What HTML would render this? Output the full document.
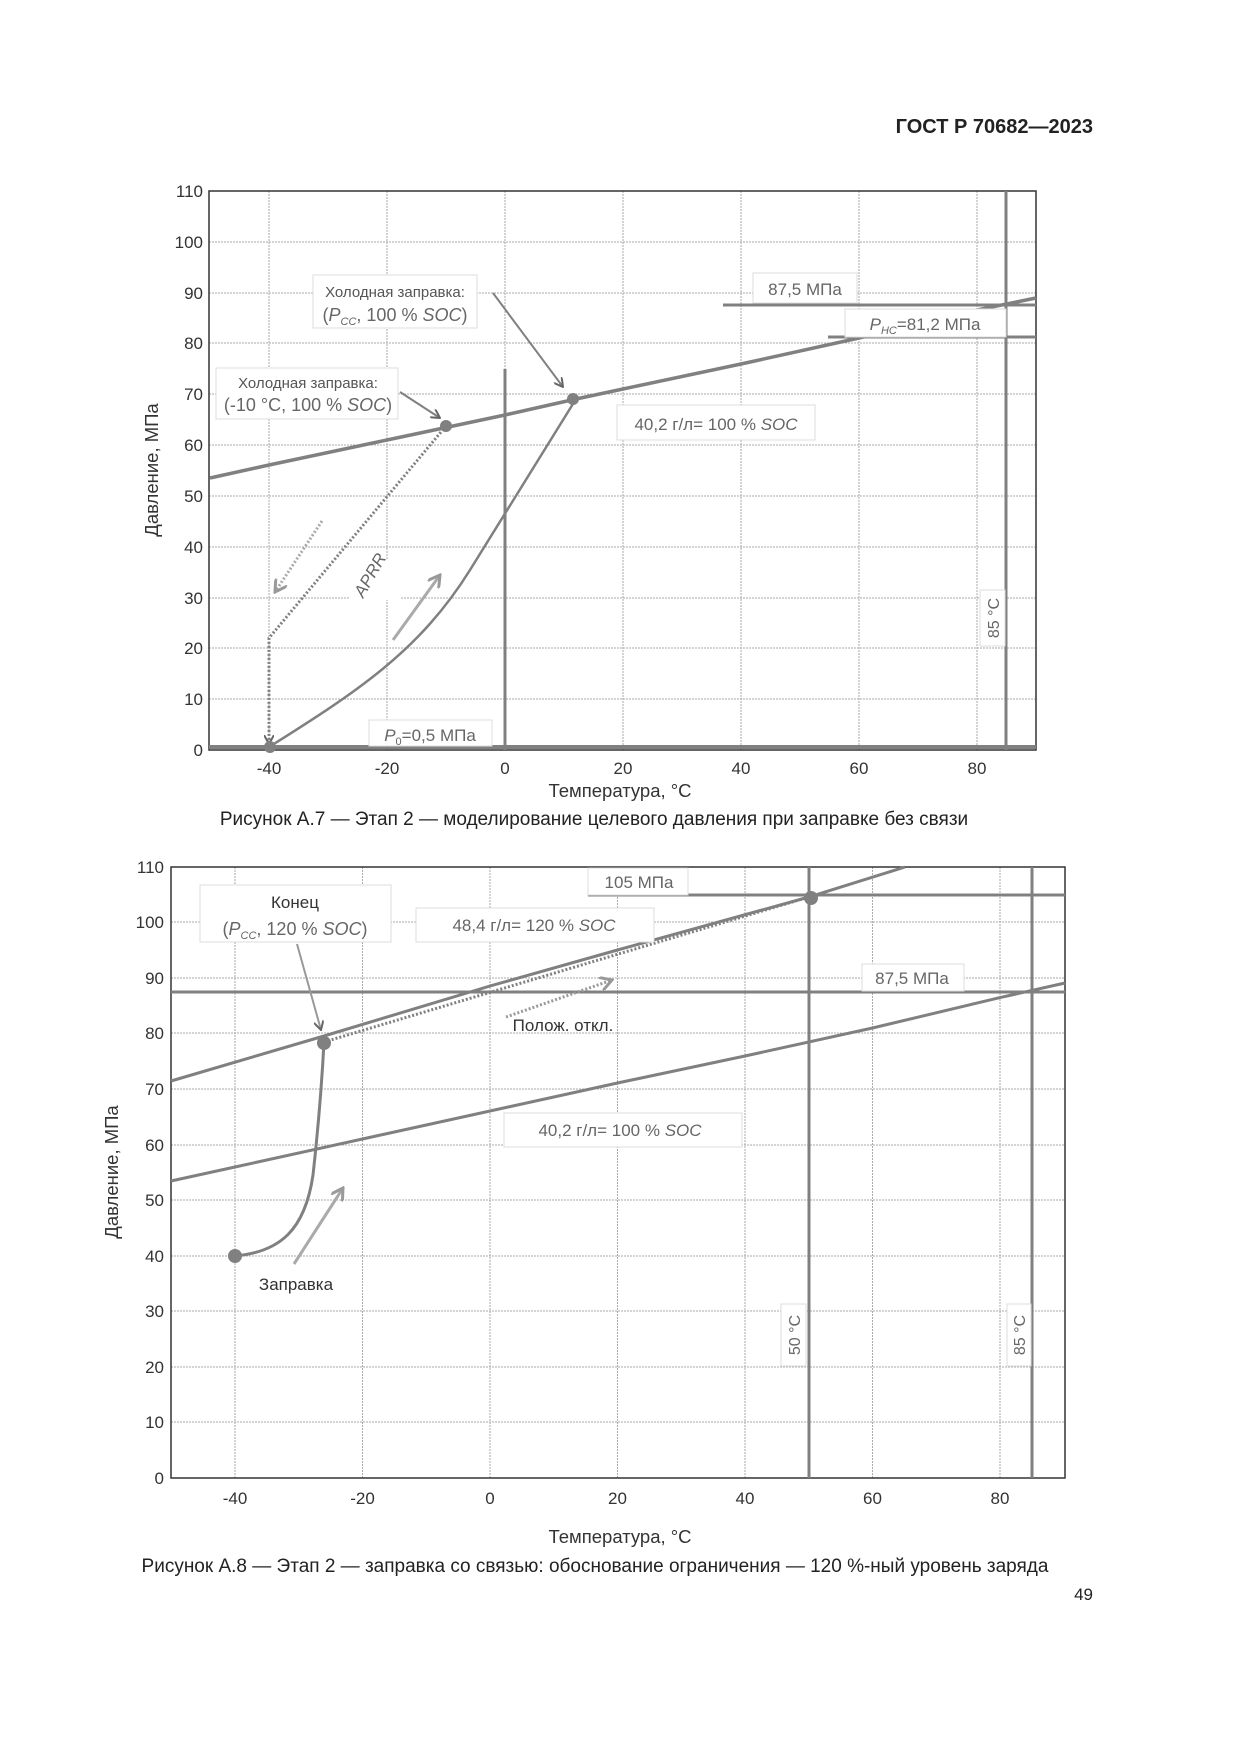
<!DOCTYPE html>
<html><head><meta charset="utf-8"><style>
html,body{margin:0;padding:0;background:#fff}
svg{display:block}
text{font-family:"Liberation Sans",sans-serif}
</style></head><body>
<svg width="1241" height="1754" viewBox="0 0 1241 1754" xmlns="http://www.w3.org/2000/svg">
<defs>
<marker id="ah" markerWidth="10" markerHeight="10" refX="9" refY="5" orient="auto" markerUnits="userSpaceOnUse"><path d="M0,0 L9,5 L0,10" fill="none" stroke="#666" stroke-width="2"/></marker>
<marker id="ahl" markerWidth="14" markerHeight="14" refX="12" refY="7" orient="auto" markerUnits="userSpaceOnUse"><path d="M0,0 L12,7 L0,14" fill="none" stroke="#999" stroke-width="3"/></marker>
</defs>
<text x="1093" y="133" text-anchor="end" font-size="20" font-weight="bold" fill="#222">ГОСТ Р 70682—2023</text>

<!-- CHART 1 -->
<g stroke="#aaa" stroke-width="1" stroke-dasharray="2,1">
<line x1="269" y1="191" x2="269" y2="750"/><line x1="387" y1="191" x2="387" y2="750"/><line x1="505" y1="191" x2="505" y2="750"/><line x1="623" y1="191" x2="623" y2="750"/><line x1="741" y1="191" x2="741" y2="750"/><line x1="859" y1="191" x2="859" y2="750"/><line x1="977" y1="191" x2="977" y2="750"/>
<line x1="209" y1="699" x2="1036" y2="699"/><line x1="209" y1="648" x2="1036" y2="648"/><line x1="209" y1="598" x2="1036" y2="598"/><line x1="209" y1="547" x2="1036" y2="547"/><line x1="209" y1="496" x2="1036" y2="496"/><line x1="209" y1="445" x2="1036" y2="445"/><line x1="209" y1="394" x2="1036" y2="394"/><line x1="209" y1="343" x2="1036" y2="343"/><line x1="209" y1="293" x2="1036" y2="293"/><line x1="209" y1="242" x2="1036" y2="242"/>
</g>
<rect x="209" y="191" width="827" height="559" fill="none" stroke="#333" stroke-width="1.5"/>
<g font-size="17" fill="#333" text-anchor="end">
<text x="203" y="756">0</text><text x="203" y="705">10</text><text x="203" y="654">20</text><text x="203" y="604">30</text><text x="203" y="553">40</text><text x="203" y="502">50</text><text x="203" y="451">60</text><text x="203" y="400">70</text><text x="203" y="349">80</text><text x="203" y="299">90</text><text x="203" y="248">100</text><text x="203" y="197">110</text>
</g>
<g font-size="17" fill="#333" text-anchor="middle">
<text x="269" y="774">-40</text><text x="387" y="774">-20</text><text x="505" y="774">0</text><text x="623" y="774">20</text><text x="741" y="774">40</text><text x="859" y="774">60</text><text x="977" y="774">80</text>
<text x="620" y="797" font-size="18.5">Температура, °C</text>
</g>
<text transform="translate(158,470) rotate(-90)" font-size="18.5" fill="#333" text-anchor="middle">Давление, МПа</text>
<text x="594" y="825" font-size="19" fill="#222" text-anchor="middle">Рисунок А.7 — Этап 2 — моделирование целевого давления при заправке без связи</text>

<g fill="none" stroke="#808080">
<line x1="505" y1="369" x2="505" y2="750" stroke-width="3"/>
<line x1="1006" y1="191" x2="1006" y2="750" stroke-width="3"/>
<line x1="209" y1="747" x2="1036" y2="747" stroke-width="4"/>
<line x1="723" y1="305" x2="1036" y2="305" stroke-width="3"/>
<line x1="828" y1="337" x2="1036" y2="337" stroke-width="3"/>
<polyline points="210,478 269,465 387,440 505,415 576,399 623,389 741,364 859,338 977,310 1036,298" stroke-width="3.5"/>
<path d="M269,747 C360,690 420,650 470,570 C520,490 550,440 576,399" stroke-width="2.5"/>
<polyline points="446,426 269,638 269,744" stroke-width="3" stroke-dasharray="2,2" marker-end="url(#ah)"/>
<line x1="322" y1="521" x2="275" y2="592" stroke="#aaa" stroke-width="3" stroke-dasharray="2,2" marker-end="url(#ahl)"/>
<line x1="393" y1="640" x2="440" y2="575" stroke="#aaa" stroke-width="3" marker-end="url(#ahl)"/>
<line x1="493" y1="293" x2="563" y2="387" stroke-width="2" marker-end="url(#ah)"/>
<line x1="400" y1="392" x2="440" y2="418" stroke-width="2" marker-end="url(#ah)"/>
</g>
<g fill="#808080"><circle cx="446" cy="426" r="6"/><circle cx="573" cy="399" r="6"/><circle cx="270" cy="747" r="6"/></g>
<g fill="#fff" stroke="#ddd" stroke-width="1">
<rect x="313" y="275" width="164" height="53"/>
<rect x="216" y="368" width="182" height="51"/>
<rect x="753" y="273" width="104" height="30"/>
<rect x="845" y="309" width="161" height="28"/>
<rect x="617" y="405" width="198" height="35"/>
<rect x="369" y="720" width="123" height="26"/>
<rect x="980" y="590" width="25" height="56"/>
<rect x="350" y="560" width="50" height="40" stroke="none"/>
</g>
<g fill="#666" font-size="15">
<text x="395" y="297" text-anchor="middle" fill="#555">Холодная заправка:</text>
<text x="395" y="321" text-anchor="middle" font-size="18">(<tspan font-style="italic">P<tspan font-size="11" dy="4">CC</tspan></tspan><tspan dy="-4">, 100 % </tspan><tspan font-style="italic">SOC</tspan>)</text>
<text x="308" y="388" text-anchor="middle" fill="#555">Холодная заправка:</text>
<text x="308" y="411" text-anchor="middle" font-size="18">(-10 °C, 100 % <tspan font-style="italic">SOC</tspan>)</text>
<text x="805" y="295" text-anchor="middle" font-size="17">87,5 МПа</text>
<text x="925" y="330" text-anchor="middle" font-size="17"><tspan font-style="italic">P<tspan font-size="11" dy="4">HC</tspan></tspan><tspan dy="-4">=81,2 МПа</tspan></text>
<text x="716" y="430" text-anchor="middle" font-size="17">40,2 г/л= 100 % <tspan font-style="italic">SOC</tspan></text>
<text x="430" y="741" text-anchor="middle" font-size="17"><tspan font-style="italic">P</tspan><tspan font-size="11" dy="4">0</tspan><tspan dy="-4">=0,5 МПа</tspan></text>
<text transform="translate(999,618) rotate(-90)" text-anchor="middle" font-size="16">85 °C</text>
<text transform="translate(375,578) rotate(-60)" text-anchor="middle" font-size="17" font-style="italic">APRR</text>
</g>

<!-- CHART 2 -->
<g stroke="#aaa" stroke-width="1" stroke-dasharray="2,1">
<line x1="235" y1="867" x2="235" y2="1478"/><line x1="362.5" y1="867" x2="362.5" y2="1478"/><line x1="490" y1="867" x2="490" y2="1478"/><line x1="617.5" y1="867" x2="617.5" y2="1478"/><line x1="745" y1="867" x2="745" y2="1478"/><line x1="872.5" y1="867" x2="872.5" y2="1478"/><line x1="1000" y1="867" x2="1000" y2="1478"/>
<line x1="171" y1="1422" x2="1065" y2="1422"/><line x1="171" y1="1367" x2="1065" y2="1367"/><line x1="171" y1="1311" x2="1065" y2="1311"/><line x1="171" y1="1256" x2="1065" y2="1256"/><line x1="171" y1="1200" x2="1065" y2="1200"/><line x1="171" y1="1145" x2="1065" y2="1145"/><line x1="171" y1="1089" x2="1065" y2="1089"/><line x1="171" y1="1033" x2="1065" y2="1033"/><line x1="171" y1="978" x2="1065" y2="978"/><line x1="171" y1="922" x2="1065" y2="922"/>
</g>
<rect x="171" y="867" width="894" height="611" fill="none" stroke="#333" stroke-width="1.5"/>
<g font-size="17" fill="#333" text-anchor="end">
<text x="164" y="1484">0</text><text x="164" y="1428">10</text><text x="164" y="1373">20</text><text x="164" y="1317">30</text><text x="164" y="1262">40</text><text x="164" y="1206">50</text><text x="164" y="1151">60</text><text x="164" y="1095">70</text><text x="164" y="1039">80</text><text x="164" y="984">90</text><text x="164" y="928">100</text><text x="164" y="873">110</text>
</g>
<g font-size="17" fill="#333" text-anchor="middle">
<text x="235" y="1504">-40</text><text x="362.5" y="1504">-20</text><text x="490" y="1504">0</text><text x="617.5" y="1504">20</text><text x="745" y="1504">40</text><text x="872.5" y="1504">60</text><text x="1000" y="1504">80</text>
<text x="620" y="1543" font-size="18.5">Температура, °C</text>
</g>
<text transform="translate(118,1172) rotate(-90)" font-size="18.5" fill="#333" text-anchor="middle">Давление, МПа</text>
<text x="595" y="1572" font-size="19" fill="#222" text-anchor="middle">Рисунок А.8 — Этап 2 — заправка со связью: обоснование ограничения — 120 %-ный уровень заряда</text>
<text x="1093" y="1600" font-size="17" fill="#222" text-anchor="end">49</text>

<g fill="none" stroke="#808080">
<line x1="809" y1="867" x2="809" y2="1478" stroke-width="3"/>
<line x1="1032" y1="867" x2="1032" y2="1478" stroke-width="3"/>
<line x1="171" y1="992" x2="1065" y2="992" stroke-width="3"/>
<line x1="588" y1="895" x2="1065" y2="895" stroke-width="3"/>
<polyline points="171,1081 324,1036 490,986 617.5,950 809,897 905,867" stroke-width="3"/>
<polyline points="171,1181 235,1167 362.5,1139 490,1111 617.5,1083 745,1056 872.5,1028 1000,997.6 1065,983" stroke-width="3"/>
<path d="M235,1256 C280,1252 305,1230 313,1175 C318,1130 322,1080 324,1042" stroke-width="3"/>
<line x1="324" y1="1042" x2="809" y2="897" stroke-width="3" stroke-dasharray="2,2"/>
<line x1="506" y1="1017" x2="612" y2="980" stroke="#999" stroke-width="3" stroke-dasharray="2,2" marker-end="url(#ahl)"/>
<line x1="294" y1="1264" x2="343" y2="1188" stroke="#aaa" stroke-width="3" marker-end="url(#ahl)"/>
<line x1="297" y1="944" x2="321" y2="1030" stroke="#999" stroke-width="2" marker-end="url(#ah)"/>
</g>
<g fill="#808080"><circle cx="235" cy="1256" r="7"/><circle cx="324" cy="1043" r="7"/><circle cx="811" cy="898" r="7"/></g>
<g fill="#fff" stroke="#ddd" stroke-width="1">
<rect x="200" y="885" width="191" height="57"/>
<rect x="416" y="908" width="238" height="34"/>
<rect x="588" y="868" width="100" height="27"/>
<rect x="862" y="964" width="102" height="27"/>
<rect x="504" y="1113" width="238" height="34"/>
<rect x="781" y="1304" width="25" height="62"/>
<rect x="1007" y="1304" width="24" height="62"/>
</g>
<g fill="#666" font-size="17">
<text x="295" y="908" text-anchor="middle" fill="#333" font-size="17">Конец</text>
<text x="295" y="935" text-anchor="middle" font-size="18">(<tspan font-style="italic">P<tspan font-size="11" dy="4">CC</tspan></tspan><tspan dy="-4">, 120 % </tspan><tspan font-style="italic">SOC</tspan>)</text>
<text x="534" y="931" text-anchor="middle">48,4 г/л= 120 % <tspan font-style="italic">SOC</tspan></text>
<text x="639" y="888" text-anchor="middle">105 МПа</text>
<text x="912" y="984" text-anchor="middle">87,5 МПа</text>
<text x="620" y="1136" text-anchor="middle">40,2 г/л= 100 % <tspan font-style="italic">SOC</tspan></text>
<text x="563" y="1031" text-anchor="middle" fill="#333">Полож. откл.</text>
<text x="296" y="1290" text-anchor="middle" fill="#333">Заправка</text>
<text transform="translate(800,1335) rotate(-90)" text-anchor="middle" font-size="16">50 °C</text>
<text transform="translate(1025,1335) rotate(-90)" text-anchor="middle" font-size="16">85 °C</text>
</g>
</svg>
</body></html>
